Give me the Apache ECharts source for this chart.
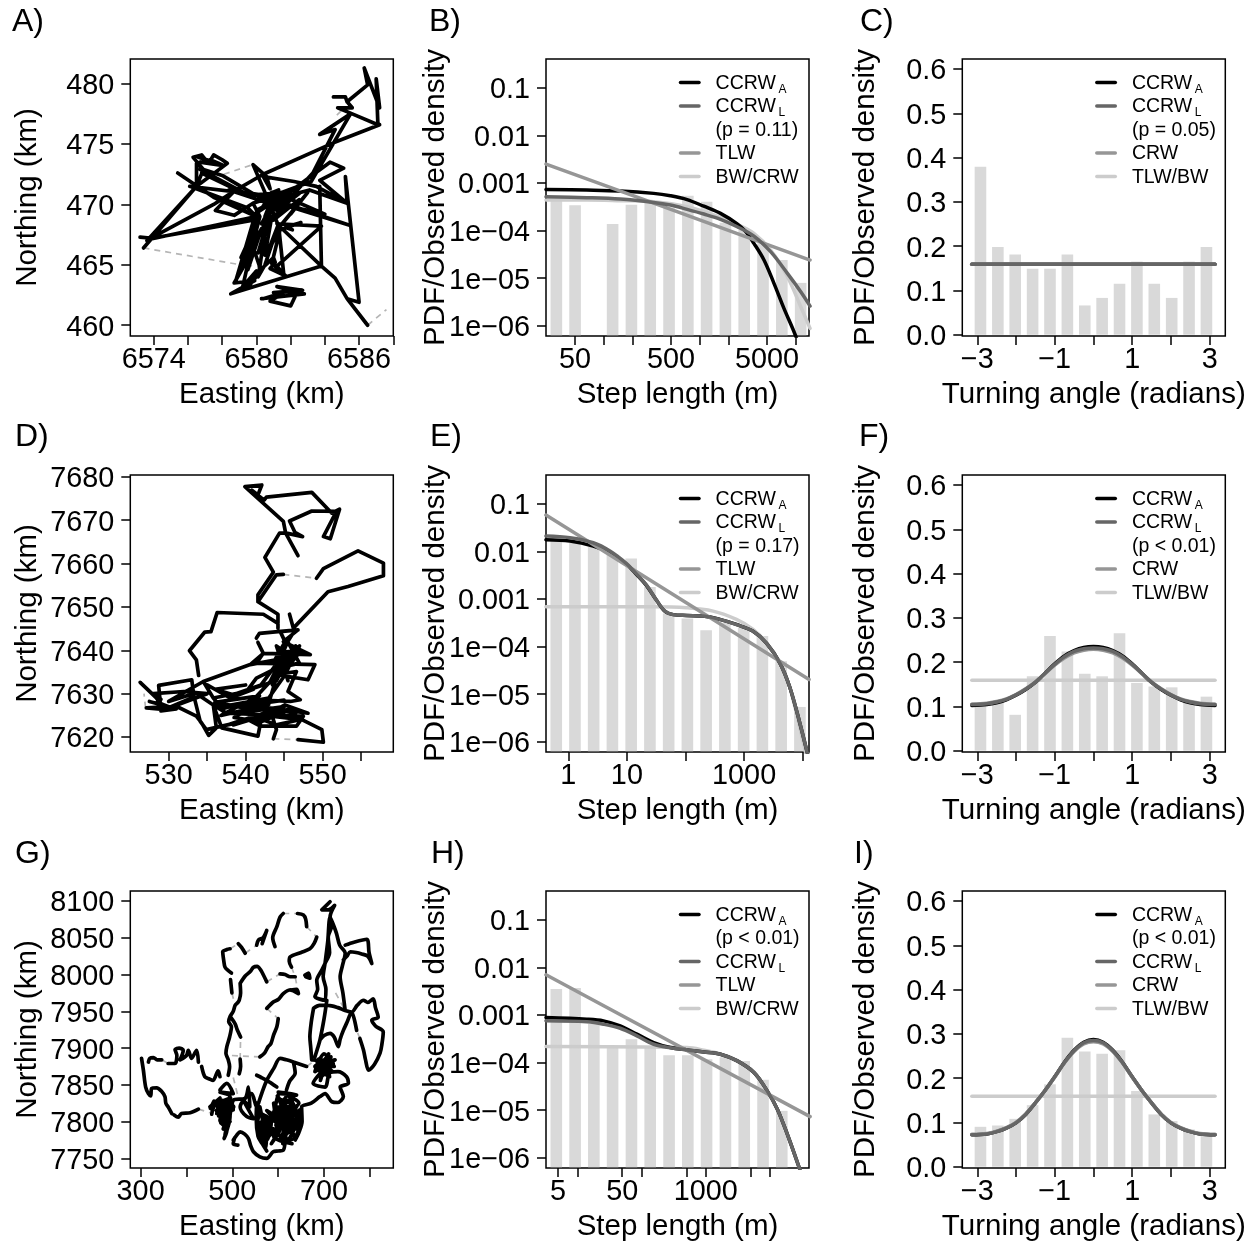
<!DOCTYPE html>
<html><head><meta charset="utf-8">
<script src="https://cdn.jsdelivr.net/npm/echarts@6/dist/echarts.min.js"></script>
<style>html,body{margin:0;padding:0;background:#fff}#c{width:1257px;height:1245px}</style>
</head><body><div id="c"></div>
<script>
// ---------- movement tracks (km); null = break in the track ----------
const trackA = [[6584.5,478.9],[6585.2,478.9],[6585.3,478.5],[6586.5,479.9],[6586.3,481.3],[6587.2,478],[6587,480.4],[6587.1,476.6],[6585.6,477.5],[6584.75,478],[6585.6,478],[6585.3,478.5],null,
[6587.2,476.6],[6584.5,475.1],[6580.4,472.5],[6578.7,471.1],[6577.6,469.5],[6578.7,469.1],[6579.8,470.1],[6583.2,471.9],[6585.5,477.5],[6583.7,475.8],[6584.6,476.2],[6583.3,472.6],[6582.2,470.9],[6580.8,469.3],[6579.6,465.7],[6580.2,469],[6579.8,470.1],[6582,471.1],[6584.3,473.5],[6585.1,473],[6583.7,472],[6585.3,470.1],[6585.2,472.3],[6586,461.9],[6585.3,462.2],[6584.6,463.9],[6583.8,464.9],[6583.7,471.5],[6583.8,464.9],[6581.2,468.4],[6583.8,468.2],[6581.2,464.9],[6581.6,464.2],[6581.3,468.2],[6580.5,471],[6579.8,473.3],[6580.6,472.3],[6580.8,471.3],[6580.4,472.3],[6582.2,471.9],[6583.5,471.5],[6585.3,470.1],[6583.1,471.2],[6581,470.4],[6585.4,468.3],[6582.2,469.7],[6580.4,470.3],[6584,469.2],[6581.4,470.8],[6580.5,469],[6581,470.8],[6582.5,470.9],[6581.2,469.5],[6580.1,470.5],[6581.3,471.2],null,
[6585.3,462.2],[6586.5,460],null,
[6583.8,464.9],[6578.5,462.6],[6579.9,463.7],[6578.7,463.5],[6579.6,465.7],[6579.2,463.2],[6580,464.5],[6579.6,463.3],[6580.4,464.8],[6581,465.6],[6581.1,465.2],[6580.8,464.7],[6581.7,464.1],[6580.9,465.1],[6581.4,468],[6580.7,466.2],[6581.3,468.4],[6580.5,465],[6580.1,464],[6580.6,468.5],[6579.8,467],[6579.5,466],[6580.1,469.5],null,
[6580.3,462.2],[6582.8,462.6],[6581.2,463.2],[6582.7,462.9],[6581,462.7],[6582.4,462.8],[6582,461.6],[6580.8,462],[6581.6,462.7],[6580.4,462.2],null,
[6581.6,468],[6582.6,468.5],[6581.7,468.1],[6582.1,467.9],null,
[6573.4,466.4],[6576.5,471.5],[6578.3,473.4],[6578,473.7],[6577.5,474.1],[6577.2,473.4],[6576.8,474.1],[6576.3,473.9],[6576.9,472.9],[6576.5,473.4],[6576.5,471.5],[6576.9,472.9],[6578,472.4],[6579.8,470.9],[6581,470.6],null,
[6575.4,472.6],[6577.5,470.6],[6580,469],[6579.5,469.7],[6576.1,471.5],[6580.2,470.8],[6582,470.9],null,
[6573.2,467.3],[6573.9,467.2],[6579.8,468.7],[6580,469],[6573.7,467.1],[6577.5,470],[6578.7,471.1],null,
[6573.6,467],[6576.5,471.5],[6573.4,466.4],null,
[6577.3,473.7],[6578.1,473.2],[6576.7,473.5],[6577.8,473.4],[6576.6,473.9],null,
[6576.8,472.6],[6579.6,470.7],[6576.7,472.9],[6579.9,470.5],[6578.4,471.2],null,
[6580,469.5],[6582,471],[6579.8,470.8],[6581.8,470.2],[6580,470.3],[6581.5,471],[6580.4,469.9],[6582.3,470.9],[6580.8,470.1],[6579.9,469.2],[6581.6,470.8],[6580.3,470.6],[6581.2,469.6],[6580.9,471],null,
[6579.9,469],[6578.8,463.7],[6579.7,466.7],[6579.1,465.6],[6580,468.4],[6579.3,465],[6579.9,467],[6579.5,464.6],[6580.3,468],[6579.8,466.5],[6580.2,464.8],[6580.5,467.9],[6580.1,466],[6580.9,469],[6580.5,465.8],null,
[6580.7,469.4],[6580.3,468.4],[6581.8,469.8],[6581,468.7],[6582.5,470.4],[6582,469.2],[6583,471],[6581.5,468.4],[6582.4,469.9]];
const gapsA = [[6573.4,466.4],[6579.1,465],null,[6578.1,472.5],[6579.8,473.3],null,[6586.5,460],[6587.6,461.3],null,[6584.7,477.4],[6585,477.8],null,[6579.4,465],[6580.7,464.7]];

const trackD = [[546.8,7661.8],[545.2,7667],[544.4,7667],[542.5,7661.4],[543.6,7658],[541.6,7652.8],[541.6,7651.2],[544.2,7648.3],[544.2,7645.1],null,
[545.2,7667],[544.9,7669.7],[539.9,7677.7],[542.1,7678.1],[541.6,7675.8],[540.8,7676.9],[542.4,7674.6],[542.7,7675.3],[548.6,7676.4],[551.2,7671.6],[552.2,7672.5],[551,7665.7],[550.1,7666.2],[551.8,7672],[548.6,7672.1],[545.7,7669.8],[546.4,7667.2],[547.4,7666.2],[545.3,7667],null,
[541.6,7651.2],[544,7657.4],[544.9,7657.5],null,
[549.2,7656.6],[550.1,7658.8],[554.6,7662.9],[557.9,7660.1],[557.9,7657.2],[553.3,7654.7],[550.7,7653.5],[546.2,7645.1],[545.7,7648.3],null,
[544.2,7646.2],[542.3,7648.3],[536.3,7648.7],[535.5,7644.3],[534.7,7644.2],[532.7,7639.9],[533.6,7637.8],[533.9,7634.2],null,
[546.8,7644.7],[544.2,7644.3],[541.8,7643.9],[541.4,7642.8],null,
[541.6,7641.8],[542.3,7639.3],[540.6,7636.7],[534.5,7632.8],[535.8,7629],[540.1,7630.5],[541.4,7633.6],[544,7635.9],[545.3,7641.3],[544.5,7644.3],[546.8,7644.7],[544.9,7642],[548.4,7639],[542.3,7639.3],[541.4,7637],[542.7,7637],[549,7636.7],[548.1,7633.2],[544,7634.4],[546.6,7635.1],[545.5,7630.5],[547.1,7628.6],[545.8,7628.2],[541,7628.6],[543.2,7632.8],[544.9,7639],[543.2,7629],[540.1,7627.4],[548.1,7625.5],[545.1,7627.4],[542.7,7625.1],[537.5,7625.5],[535.8,7627.4],[533.2,7630.5],[533,7633.2],[528.7,7631.9],[528.9,7628.2],[526.3,7632.6],[528.4,7629],[529.7,7626.3],[527.1,7626.7],[531,7627.1],[533.6,7624.8],[534.3,7623.2],[535.2,7620.4],[536.2,7622.1],[535.8,7627.4],[536.9,7622.1],[541.6,7620.2],[542.1,7624.8],[538.4,7622.8],[540.3,7624],[541.9,7622.5],[546.6,7622.5],[547.5,7624.8],[541.9,7625.1],[547.3,7624],[549.9,7621.7],[550.1,7618.8],[546.8,7619.4],null,
[543.6,7619.6],[544,7621.7],[543.4,7625.1],[534.9,7621.7],[534.1,7623.6],[533.2,7630],[530,7628.2],[534.5,7632.8],[540.6,7636.7],[544.5,7638],[542,7632],[538,7629.5],[544,7633],[546,7640],[544.4,7637],[547,7641],[545,7634],[543,7629],[537,7627],[541,7627.5],[545,7626],[546.5,7625.5],null,
[535.8,7629],[537,7626.5],[540,7628],[536.8,7625],[543,7627.5],[539,7625.5],[545,7627],[538,7623],[543,7625.5],[547,7624],[544,7622.8],[541,7624.8],[546,7626.5],[542,7623.5],[538.5,7624.5],[540.5,7626.5],[536,7628],[541.8,7629.5],[539,7627],[545,7628.5],null,
[543.5,7632],[545,7638],[544,7634],[546.5,7641],[544.4,7636],[547,7637],[545.3,7642.5],[543.7,7637.5],[546,7643.5],[544.6,7639.5],[547.2,7640],[545,7635],[546,7638.5],[544,7641],[545.5,7633],null,
[528.5,7628],[530,7627],[527.5,7628.2],[531,7626.5],[529,7626],[533,7629],[531,7627.3],[535,7630],[532,7630.5],[528,7630],[529,7628.7],null,
[535,7632],[538,7629],[541,7631],[538.5,7629.7],[536,7631],[540,7632]];
const gapsD = [[544.9,7657.5],[549.2,7656.6],null,[543.6,7619.6],[546.8,7619.4],null,[527,7626.8],[526.8,7630],null,[541.4,7642.8],[541.6,7641.8]];

const trackG = [[302,7886],[306,7870],[311,7847],[317,7838],[322,7835],[324,7845],[335,7846],[346,7841],[353,7834],[355,7825],[360,7820],[368,7811],null,[373,7809],[382,7806],[389,7811],[408,7812],[426,7817],null,
[317,7881],[320,7886],[328,7887],[336,7884],[346,7884],null,[360,7879],[375,7879],[379,7890],[375,7898],[384,7900],[393,7897],[386,7884],[400,7890],[404,7897],[411,7886],[422,7897],[426,7881],null,[433,7875],[440,7861],[450,7858],[458,7856],[469,7869],[473,7861],null,
[451,7820],[473,7832],[466,7811],[495,7825],[473,7802],[488,7788],[482,7777],[495,7807],[473,7820],[502,7816],[477,7827],[491,7795],[502,7829],[528,7832],[535,7847],[538,7820],[524,7829],[546,7804],[531,7807],[517,7820],[542,7838],[553,7820],[557,7825],null,
[470,7825],[490,7830],[465,7815],[498,7815],[470,7808],[492,7820],[475,7798],[495,7800],[480,7790],[490,7810],[468,7820],[500,7825],[478,7812],[487,7795],[484,7782],[493,7805],[472,7830],[503,7820],[480,7805],[496,7832],[462,7822],[455,7810],[460,7828],[452,7818],null,
[473,7843],[488,7852],[502,7838],[473,7840],[495,7834],[478,7825],null,
[491,7863],[494,7875],[491,7884],[486,7893],[488,7902],[494,7915],[498,7929],[492,7936],[495,7943],[502,7950],[506,7958],[512,7962],[515,7965],[518,7975],[517,7988],null,[518,7915],[510,7926],[506,7933],[495,7943],null,[515,7865],[518,7875],[517,7885],null,
[498,8002],[490,8006],[484,8010],[481,8020],[479,8031],[488,8034],[495,8035],null,[513,8042],[520,8037],[528,8029],null,[553,8040],[557,8047],[567,8050],[575,8060],[565,8042],null,[593,8038],[588,8050],[597,8065],[604,8078],[611,8083],null,[642,8083],[655,8081],[660,8075],[662,8065],null,[684,8051],[678,8042],[669,8035],[650,8030],[626,8024],[624,8018],[629,8010],null,[496,7993],[499,7975],null,
[517,7988],[528,7998],[539,8004],[546,8010],[554,8011],[562,8006],[568,7999],[575,7990],null,[604,8001],[615,8000],[626,7997],[637,7997],null,[658,7999],[666,8002],[669,7995],[660,7997],null,
[575,7954],[590,7963],[600,7966],[611,7974],[625,7979],[644,7974],[640,7980],[626,7979],null,[600,7940],[597,7929],[590,7918],[584,7906],[578,7902],[570,7893],[560,7888],null,
[713,8099],[695,8088],[709,8088],[723,8094],[713,8078],[716,8065],[709,8051],[712,8030],[702,8015],[694,8005],[684,7992],[686,7980],[680,7970],[702,7965],[704,7980],[698,7997],[702,8015],[708,8045],[713,8078],[720,8068],[727,8056],[734,8040],[746,8029],[740,8012],[735,7997],[741,7975],[746,7951],null,
[746,8040],[765,8044],[793,8048],[798,8030],[804,8015],[795,8025],[782,8028],[770,8030],[757,8031],[750,8025],[742,8020],null,
[677,7954],[690,7958],[709,7958],[730,7955],[746,7951],[760,7949],[772,7958],[786,7965],[795,7962],[807,7967],[812,7955],[818,7942],[804,7938],[812,7930],[829,7922],[826,7905],[822,7893],[810,7878],[797,7870],[790,7885],[786,7897],[778,7913],null,[771,7924],[760,7949],[750,7935],[742,7924],[735,7912],[731,7902],[722,7915],[713,7920],[700,7917],[691,7911],null,[706,7965],[700,7940],[691,7911],[685,7898],[680,7888],null,[677,7954],[672,7935],[669,7915],[671,7900],[673,7884],null,
[676,7884],[720,7879],[684,7870],[706,7888],[691,7866],[702,7885],[712,7861],[680,7875],[724,7884],[698,7870],[676,7852],[702,7847],[712,7866],[730,7868],[749,7861],[753,7852],[735,7847],[742,7834],[730,7826],[717,7827],[702,7838],[691,7834],[672,7825],[651,7820],[652,7800],[645,7785],[637,7775],null,
[685,7880],[715,7888],[690,7875],[722,7875],[700,7892],[680,7868],[712,7880],[695,7862],[708,7870],[688,7885],[718,7868],[700,7878],[692,7856],[710,7892],null,
[633,7881],[618,7884],[604,7886],[590,7872],[575,7856],[565,7840],[557,7825],null,[553,7863],[563,7860],[575,7856],[597,7847],null,[600,7840],[625,7838],[640,7836],null,[662,7875],[633,7881],[637,7866],[625,7855],[618,7843],null,
[560,7818],[553,7793],[575,7807],[568,7775],[582,7798],[557,7784],[589,7811],[604,7838],[633,7834],[604,7798],[640,7820],[589,7811],[626,7788],[647,7816],[597,7788],[618,7829],[582,7802],[637,7802],[597,7820],[629,7811],[607,7777],[651,7802],[637,7779],[615,7773],null,
[553,7825],[552,7805],[556,7780],[565,7770],[575,7760],null,
[560,7820],[570,7790],[556,7800],[575,7775],[585,7800],[565,7810],[580,7780],[590,7790],[560,7790],[572,7765],[578,7795],[595,7805],[575,7815],[600,7790],[585,7770],[610,7800],[590,7825],[605,7778],[620,7810],[598,7835],[630,7790],[610,7825],[640,7805],[615,7785],[645,7795],[625,7830],[600,7810],[635,7780],[612,7815],[648,7812],[620,7775],[605,7830],[630,7822],[595,7795],[640,7790],[625,7800],[610,7770],[635,7815],[600,7800],[620,7835],[645,7825],[615,7810],[590,7780],[630,7770],null,
[502,7775],[510,7782],[517,7786],[527,7783],[535,7777],[540,7767],[546,7759],[560,7752],[575,7750],[589,7759],[600,7760],[611,7761],[615,7773],null,[505,7778],[502,7770],[512,7768]];
const gapsG = [[426,7817],[451,7812],null,[346,7884],[360,7879],null,[495,8035],[513,8042],null,[528,8029],[553,8040],null,[611,8083],[642,8083],null,[662,8065],[684,8051],null,[575,7990],[604,8001],null,[629,8010],[637,7997],[644,7974],null,[575,7954],[600,7940],null,[560,7888],[495,7890],null,[517,7885],[518,7915],null,[499,7975],[506,7958],null,[502,7860],[512,7835],null,[725,7975],[746,7951],null,[778,7913],[771,7924],null,[662,7875],[673,7880]];

// ---------- log10 step-length histograms: bin centre and height ----------
const stepBinsB = [1.504,1.699,2.09,2.286,2.482,2.678,2.874,3.069,3.265,3.461,3.657,3.853,4.049];
const stepBarsB = [-3.36,-3.47,-3.864,-3.458,-3.395,-3.514,-3.27,-3.395,-3.836,-3.99,-4.27,-4.62,-5.1];
const stepBinsE = [-0.205,0.114,0.433,0.753,1.073,1.393,1.713,2.032,2.352,2.672,2.992,3.312,3.632,3.952];
const stepBarsE = [-1.75,-1.82,-1.91,-2.065,-2.15,-2.75,-3.305,-3.41,-3.66,-3.5,-3.61,-3.78,-4.31,-5.27];
const stepBinsH = [0.672,0.965,1.257,1.549,1.843,2.135,2.429,2.721,3.013,3.307,3.6,3.893,4.185];
const stepBarsH = [-2.458,-2.437,-3.19,-3.68,-3.51,-3.68,-3.845,-3.845,-3.93,-3.89,-3.97,-4.36,-5.015];

// ---------- log10 step-length fits: [log10 x, log10 density] ----------
const fitB_A = [[1.396,-3.136],[1.821,-3.15],[2.169,-3.17],[2.518,-3.22],[2.692,-3.27],[2.866,-3.35],[3.04,-3.49],[3.214,-3.64],[3.388,-3.86],[3.475,-4.02],[3.562,-4.27],[3.667,-4.62],[3.771,-5.11],[3.876,-5.64],[3.998,-6.22],[4.05,-6.6]];
const fitB_L = [[1.396,-3.29],[1.821,-3.31],[2.169,-3.34],[2.518,-3.41],[2.692,-3.465],[2.866,-3.556],[3.04,-3.654],[3.214,-3.765],[3.388,-3.92],[3.562,-4.116],[3.736,-4.445],[3.911,-4.9],[4.05,-5.286],[4.147,-5.587]];
const fitB_T = [[1.396,-2.604],[2.518,-3.426],[3.475,-4.13],[4.147,-4.62]];
const fitB_B = [[1.396,-3.36],[1.821,-3.36],[2.169,-3.374],[2.518,-3.395],[2.866,-3.5],[3.214,-3.72],[3.388,-3.87],[3.562,-4.06],[3.736,-4.41],[3.911,-4.97],[4.05,-5.6],[4.147,-6.056]];
const fitE_A = [[-0.381,-1.757],[0.028,-1.785],[0.426,-1.89],[0.71,-2.03],[0.994,-2.275],[1.165,-2.486],[1.335,-2.72],[1.506,-3.03],[1.648,-3.26],[1.79,-3.33],[2.017,-3.348],[2.301,-3.36],[2.585,-3.43],[2.869,-3.537],[3.153,-3.68],[3.381,-3.93],[3.608,-4.343],[3.778,-4.85],[3.949,-5.6],[4.091,-6.3]];
const fitE_L = [[-0.381,-1.68],[0.028,-1.715],[0.426,-1.82],[0.71,-1.995],[0.994,-2.26],[1.165,-2.48],[1.335,-2.71],[1.506,-3.03],[1.648,-3.255],[1.79,-3.33],[2.017,-3.348],[2.301,-3.36],[2.585,-3.43],[2.869,-3.54],[3.153,-3.68],[3.381,-3.93],[3.608,-4.343],[3.778,-4.85],[3.949,-5.6],[4.091,-6.3]];
const fitE_T = [[-0.381,-1.238],[4.108,-4.693]];
const fitE_B = [[-0.381,-3.165],[1.45,-3.165],[2.017,-3.186],[2.47,-3.256],[2.869,-3.43],[3.153,-3.64],[3.381,-3.92],[3.608,-4.343],[3.778,-4.85],[4.006,-6],[4.063,-6.3]];
const fitH_A = [[0.511,-3.055],[1.147,-3.09],[1.407,-3.125],[1.668,-3.23],[1.928,-3.405],[2.189,-3.58],[2.449,-3.686],[2.709,-3.735],[2.97,-3.777],[3.23,-3.826],[3.491,-3.966],[3.751,-4.21],[3.96,-4.6],[4.116,-4.98],[4.272,-5.51],[4.454,-6.2],[4.5,-6.4]];
const fitH_L = [[0.511,-3.125],[1.147,-3.146],[1.407,-3.195],[1.668,-3.28],[1.928,-3.44],[2.189,-3.616],[2.449,-3.69],[2.709,-3.735],[2.97,-3.777],[3.23,-3.826],[3.491,-3.966],[3.751,-4.21],[3.96,-4.6],[4.116,-4.98],[4.272,-5.51],[4.454,-6.2],[4.5,-6.4]];
const fitH_T = [[0.511,-2.157],[4.626,-5.137]];
const fitH_B = [[0.511,-3.665],[2.709,-3.686],[2.97,-3.74],[3.23,-3.82],[3.491,-3.96],[3.751,-4.2],[3.96,-4.6],[4.116,-4.98],[4.272,-5.51],[4.454,-6.2],[4.5,-6.4]];

// ---------- turning angle histograms and fits ----------
const angleBins = [-2.917,-2.468,-2.02,-1.571,-1.122,-0.673,-0.224,0.224,0.673,1.122,1.571,2.02,2.468,2.917];
const angleBarsC = [0.379,0.198,0.181,0.149,0.149,0.181,0.066,0.083,0.115,0.165,0.115,0.083,0.165,0.198];
const angleBarsF = [0.104,0.11,0.081,0.168,0.259,0.224,0.174,0.168,0.265,0.153,0.145,0.143,0.11,0.122];
const angleBarsI = [0.09,0.093,0.108,0.139,0.186,0.291,0.26,0.255,0.263,0.171,0.118,0.103,0.084,0.073];
const fitC_flat = [[-3.14,0.159],[3.14,0.159]];
const angleX = [-3.14,-2.75,-2.5,-2.25,-2,-1.75,-1.5,-1.25,-1,-0.75,-0.5,-0.25,0,0.25,0.5,0.75,1,1.25,1.5,1.75,2,2.25,2.5,2.75,3.14];
const fitF_A = [0.102,0.104,0.108,0.115,0.125,0.138,0.154,0.175,0.196,0.214,0.226,0.233,0.235,0.233,0.226,0.214,0.196,0.175,0.154,0.138,0.125,0.115,0.108,0.104,0.102];
const fitF_L = [0.104,0.106,0.11,0.116,0.126,0.139,0.155,0.175,0.195,0.212,0.224,0.23,0.232,0.23,0.224,0.212,0.195,0.175,0.155,0.139,0.126,0.116,0.11,0.106,0.104];
const fitF_T = [0.105,0.107,0.111,0.117,0.127,0.14,0.155,0.174,0.193,0.209,0.221,0.227,0.229,0.227,0.221,0.209,0.193,0.174,0.155,0.14,0.127,0.117,0.111,0.107,0.105];
const fitI_A = [0.072,0.074,0.079,0.087,0.099,0.118,0.144,0.172,0.203,0.236,0.263,0.281,0.287,0.281,0.263,0.236,0.203,0.172,0.144,0.118,0.099,0.087,0.079,0.074,0.072];
const fitI_L = [0.072,0.074,0.079,0.087,0.099,0.118,0.144,0.172,0.203,0.235,0.262,0.28,0.285,0.28,0.262,0.235,0.203,0.172,0.144,0.118,0.099,0.087,0.079,0.074,0.072];
const fitI_T = [0.073,0.075,0.08,0.088,0.1,0.119,0.144,0.172,0.202,0.234,0.26,0.277,0.282,0.277,0.26,0.234,0.202,0.172,0.144,0.119,0.1,0.088,0.08,0.075,0.073];
const flatLine = [[-3.14,0.159],[3.14,0.159]];

// ---------- tick values and labels ----------
const eastTicksA=[6574,6576,6578,6580,6582,6584,6586,6588], eastLabelsA=[6574,6580,6586];
const northTicksA=[460,465,470,475,480];
const eastTicksD=[530,535,540,545,550,555], eastLabelsD=[530,540,550];
const northTicksD=[7620,7630,7640,7650,7660,7670,7680];
const eastTicksG=[300,400,500,600,700,800], eastLabelsG=[300,500,700];
const northTicksG=[7750,7800,7850,7900,7950,8000,8050,8100];
const stepTicksB=[50,100,200,500,1000,2000,5000,10000], stepLabelsB=[50,500,5000];
const stepTicksE=[1,10,100,1000,10000], stepLabelsE=[1,10,1000];
const stepTicksH=[5,10,50,100,500,1000,5000,10000], stepLabelsH=[5,50,1000];
const densityExponents=[-1,-2,-3,-4,-5,-6];
const densityLabels=['0.1','0.01','0.001','1e\u221204','1e\u221205','1e\u221206'];
const angleTicks=[-3,-2,-1,0,1,2,3], angleLabels=[-3,-1,1,3];
const angleDensityTicks=[0,0.1,0.2,0.3,0.4,0.5,0.6];

// ---------- layout and style ----------
const FONT='"Liberation Sans"';
const LEFT=[130.3,546,962.3], TOP=[59,475,891], W=263, H=277;
const COL={A:'#000000',L:'#666666',T:'#969696',B:'#cccccc',bar:'#d9d9d9'};
const LOG_FLOOR=-6.216, BAR_FLOOR=-6.2;
const xAxes=[],yAxes=[],grids=[],series=[],titles=[],gfx=[];
const pairs=(p)=>p.map(d=>d===null?['-','-']:d);
const zip=(xs,ys)=>xs.map((x,i)=>[x,ys[i]]);

function axis(o){return {type:'value',gridIndex:o.g,min:o.min,max:o.max,name:o.name,nameLocation:'middle',nameGap:o.gap,nameMoveOverlap:false,
  nameTextStyle:{fontFamily:FONT,fontSize:29.5,color:'#000'},
  splitLine:{show:false},axisLine:{show:false,onZero:false},
  axisTick:{show:true,length:9,inside:false,lineStyle:{color:'#000',width:1.5},customValues:o.ticks},
  axisLabel:Object.assign({show:true,customValues:o.labels,formatter:o.fmt,fontFamily:FONT,fontSize:28.8,color:'#000',margin:o.margin,hideOverlap:false},o.labelExtra||{})};}

function addPanel(o){
  const g=grids.length;
  grids.push({show:true,left:LEFT[o.c],top:TOP[o.r],width:W,height:H,borderColor:'#000',borderWidth:1.5,backgroundColor:'transparent',containLabel:false});
  xAxes.push(axis(Object.assign({g,margin:10,gap:44},o.x)));
  yAxes.push(axis(Object.assign({g,margin:16,labelExtra:{verticalAlign:'top',lineHeight:5}},o.y)));
  (o.series||[]).forEach(s=>series.push(Object.assign({xAxisIndex:g,yAxisIndex:g,animation:false,silent:true},s)));
  titles.push({text:o.letter,left:o.lx,top:[6,421,838][o.r],padding:0,textStyle:{fontFamily:FONT,fontSize:32,fontWeight:'normal',color:'#000'}});
  if(o.legend) addLegend(LEFT[o.c],TOP[o.r],o.legend);
}
function addLegend(px,py,rows){
  rows.forEach((r,i)=>{
    const y=py+23.5+i*23.5;
    if(r.color) gfx.push({type:'line',z:50,shape:{x1:px+134.5,y1:y,x2:px+153,y2:y},style:{stroke:r.color,lineWidth:3.5,lineCap:'round'}});
    gfx.push({type:'text',z:50,x:px+169.6,y:y+1,style:{text:r.label,font:'19.5px '+FONT,fill:'#000',verticalAlign:'middle',textAlign:'left'}});
    if(r.sub) gfx.push({type:'text',z:50,x:px+232.5,y:y+7,style:{text:r.sub,font:'12px '+FONT,fill:'#000',verticalAlign:'middle',textAlign:'left'}});
  });
}
const track=(data,smooth)=>({type:'line',data:pairs(data),symbol:'none',showSymbol:false,connectNulls:false,clip:true,z:3,smooth:smooth||false,lineStyle:{color:'#000',width:3.7,cap:'round',join:'round'}});
const gaps=(data)=>({type:'line',data:pairs(data),symbol:'none',showSymbol:false,connectNulls:false,clip:true,z:2,lineStyle:{color:'#b5b5b5',width:1.7,type:[6,5]}});
const bars=(data)=>({type:'bar',data,barWidth:11.6,clip:true,z:1,itemStyle:{color:COL.bar}});
// Log-density histogram: each bar rises from the bottom of the log axis.
const logBars=(data)=>({type:'custom',data,clip:true,z:1,encode:{x:0,y:1},
  renderItem:(p,api)=>{const t=api.coord([api.value(0),api.value(1)]);const b=api.coord([api.value(0),BAR_FLOOR]);
    return {type:'rect',shape:{x:t[0]-5.8,y:t[1],width:11.6,height:b[1]-t[1]},style:{fill:COL.bar}};}});
const fit=(data,c,z,smooth)=>({type:'line',data,symbol:'none',showSymbol:false,clip:true,z,smooth:smooth===undefined?0.35:smooth,lineStyle:{color:c,width:3.5,cap:'round',join:'round'}});

function stepFits(a,l,t,b){return [fit(b,COL.B,2),fit(a,COL.A,3),fit(t,COL.T,4,false),fit(l,COL.L,5)];}
function angleFits(a,l,t){return [fit(flatLine,COL.B,2,false),fit(a,COL.A,3),fit(t,COL.T,4),fit(l,COL.L,5)];}

const logX=(ticks,labels,min,max)=>({min,max,name:'Step length (m)',ticks:ticks.map(Math.log10),labels:labels.map(Math.log10),fmt:v=>String(Math.round(Math.pow(10,v)))});
const logY={min:LOG_FLOOR,max:-0.397,name:'PDF/Observed density',gap:95,ticks:densityExponents,labels:densityExponents,fmt:v=>densityLabels[densityExponents.indexOf(Math.round(v))]};
const angX={min:-3.386,max:3.404,name:'Turning angle (radians)',ticks:angleTicks,labels:angleLabels,fmt:v=>(v<0?'\u2212':'')+Math.abs(v)};
const angY={min:-0.003,max:0.6226,name:'PDF/Observed density',gap:81,ticks:angleDensityTicks,labels:angleDensityTicks,fmt:v=>v.toFixed(1)};
const northName={name:'Northing (km)',gap:87};

const LA={color:COL.A,label:'CCRW',sub:'A'},LL={color:COL.L,label:'CCRW',sub:'L'},LT={color:COL.T,label:'TLW'},LB={color:COL.B,label:'BW/CRW'},LC={color:COL.T,label:'CRW'},LTB={color:COL.B,label:'TLW/BW'};
const P=t=>({label:t});

// Row 1
addPanel({r:0,c:0,letter:'A)',lx:12,
  x:{min:6572.63,max:6588,name:'Easting (km)',ticks:eastTicksA,labels:eastLabelsA,fmt:v=>String(v)},
  y:Object.assign({min:459.11,max:482.04,ticks:northTicksA,labels:northTicksA,fmt:v=>String(v)},northName),
  series:[gaps(gapsA),track(trackA)]});
addPanel({r:0,c:1,letter:'B)',lx:429,x:logX(stepTicksB,stepLabelsB,1.396,4.136),y:logY,
  series:[logBars(zip(stepBinsB,stepBarsB)),...stepFits(fitB_A,fitB_L,fitB_T,fitB_B)],
  legend:[LA,LL,P('(p = 0.11)'),LT,LB]});
addPanel({r:0,c:2,letter:'C)',lx:860,x:angX,y:angY,
  series:[bars(zip(angleBins,angleBarsC)),fit(fitC_flat,COL.B,2,false),fit(fitC_flat,COL.A,3,false),fit(fitC_flat,COL.T,4,false),fit(fitC_flat,COL.L,5,false)],
  legend:[LA,LL,P('(p = 0.05)'),LC,LTB]});
// Row 2
addPanel({r:1,c:0,letter:'D)',lx:15,
  x:{min:525.02,max:559.18,name:'Easting (km)',ticks:eastTicksD,labels:eastLabelsD,fmt:v=>String(v)},
  y:Object.assign({min:7616.55,max:7680.4,ticks:northTicksD,labels:northTicksD,fmt:v=>String(v)},northName),
  series:[gaps(gapsD),track(trackD)]});
addPanel({r:1,c:1,letter:'E)',lx:430,x:logX(stepTicksE,stepLabelsE,-0.38,4.107),y:logY,
  series:[logBars(zip(stepBinsE,stepBarsE)),...stepFits(fitE_A,fitE_L,fitE_T,fitE_B)],
  legend:[LA,LL,P('(p = 0.17)'),LT,LB]});
addPanel({r:1,c:2,letter:'F)',lx:859,x:angX,y:angY,
  series:[bars(zip(angleBins,angleBarsF)),...angleFits(zip(angleX,fitF_A),zip(angleX,fitF_L),zip(angleX,fitF_T))],
  legend:[LA,LL,P('(p < 0.01)'),LC,LTB]});
// Row 3
addPanel({r:2,c:0,letter:'G)',lx:15,
  x:{min:277.5,max:850.9,name:'Easting (km)',ticks:eastTicksG,labels:eastLabelsG,fmt:v=>String(v)},
  y:Object.assign({min:7736.9,max:8113.6,ticks:northTicksG,labels:northTicksG,fmt:v=>String(v)},northName),
  series:[gaps(gapsG),track(trackG,0.3)]});
addPanel({r:2,c:1,letter:'H)',lx:431,x:logX(stepTicksH,stepLabelsH,0.5115,4.609),y:logY,
  series:[logBars(zip(stepBinsH,stepBarsH)),...stepFits(fitH_A,fitH_L,fitH_T,fitH_B)],
  legend:[LA,P('(p < 0.01)'),LL,LT,LB]});
addPanel({r:2,c:2,letter:'I)',lx:854,x:angX,y:angY,
  series:[bars(zip(angleBins,angleBarsI)),...angleFits(zip(angleX,fitI_A),zip(angleX,fitI_L),zip(angleX,fitI_T))],
  legend:[LA,P('(p < 0.01)'),LL,LC,LTB]});

const chart=echarts.init(document.getElementById('c'),null,{renderer:'canvas'});
chart.setOption({animation:false,backgroundColor:'#fff',title:titles,grid:grids,xAxis:xAxes,yAxis:yAxes,series,graphic:{elements:gfx}});
</script></body></html>
